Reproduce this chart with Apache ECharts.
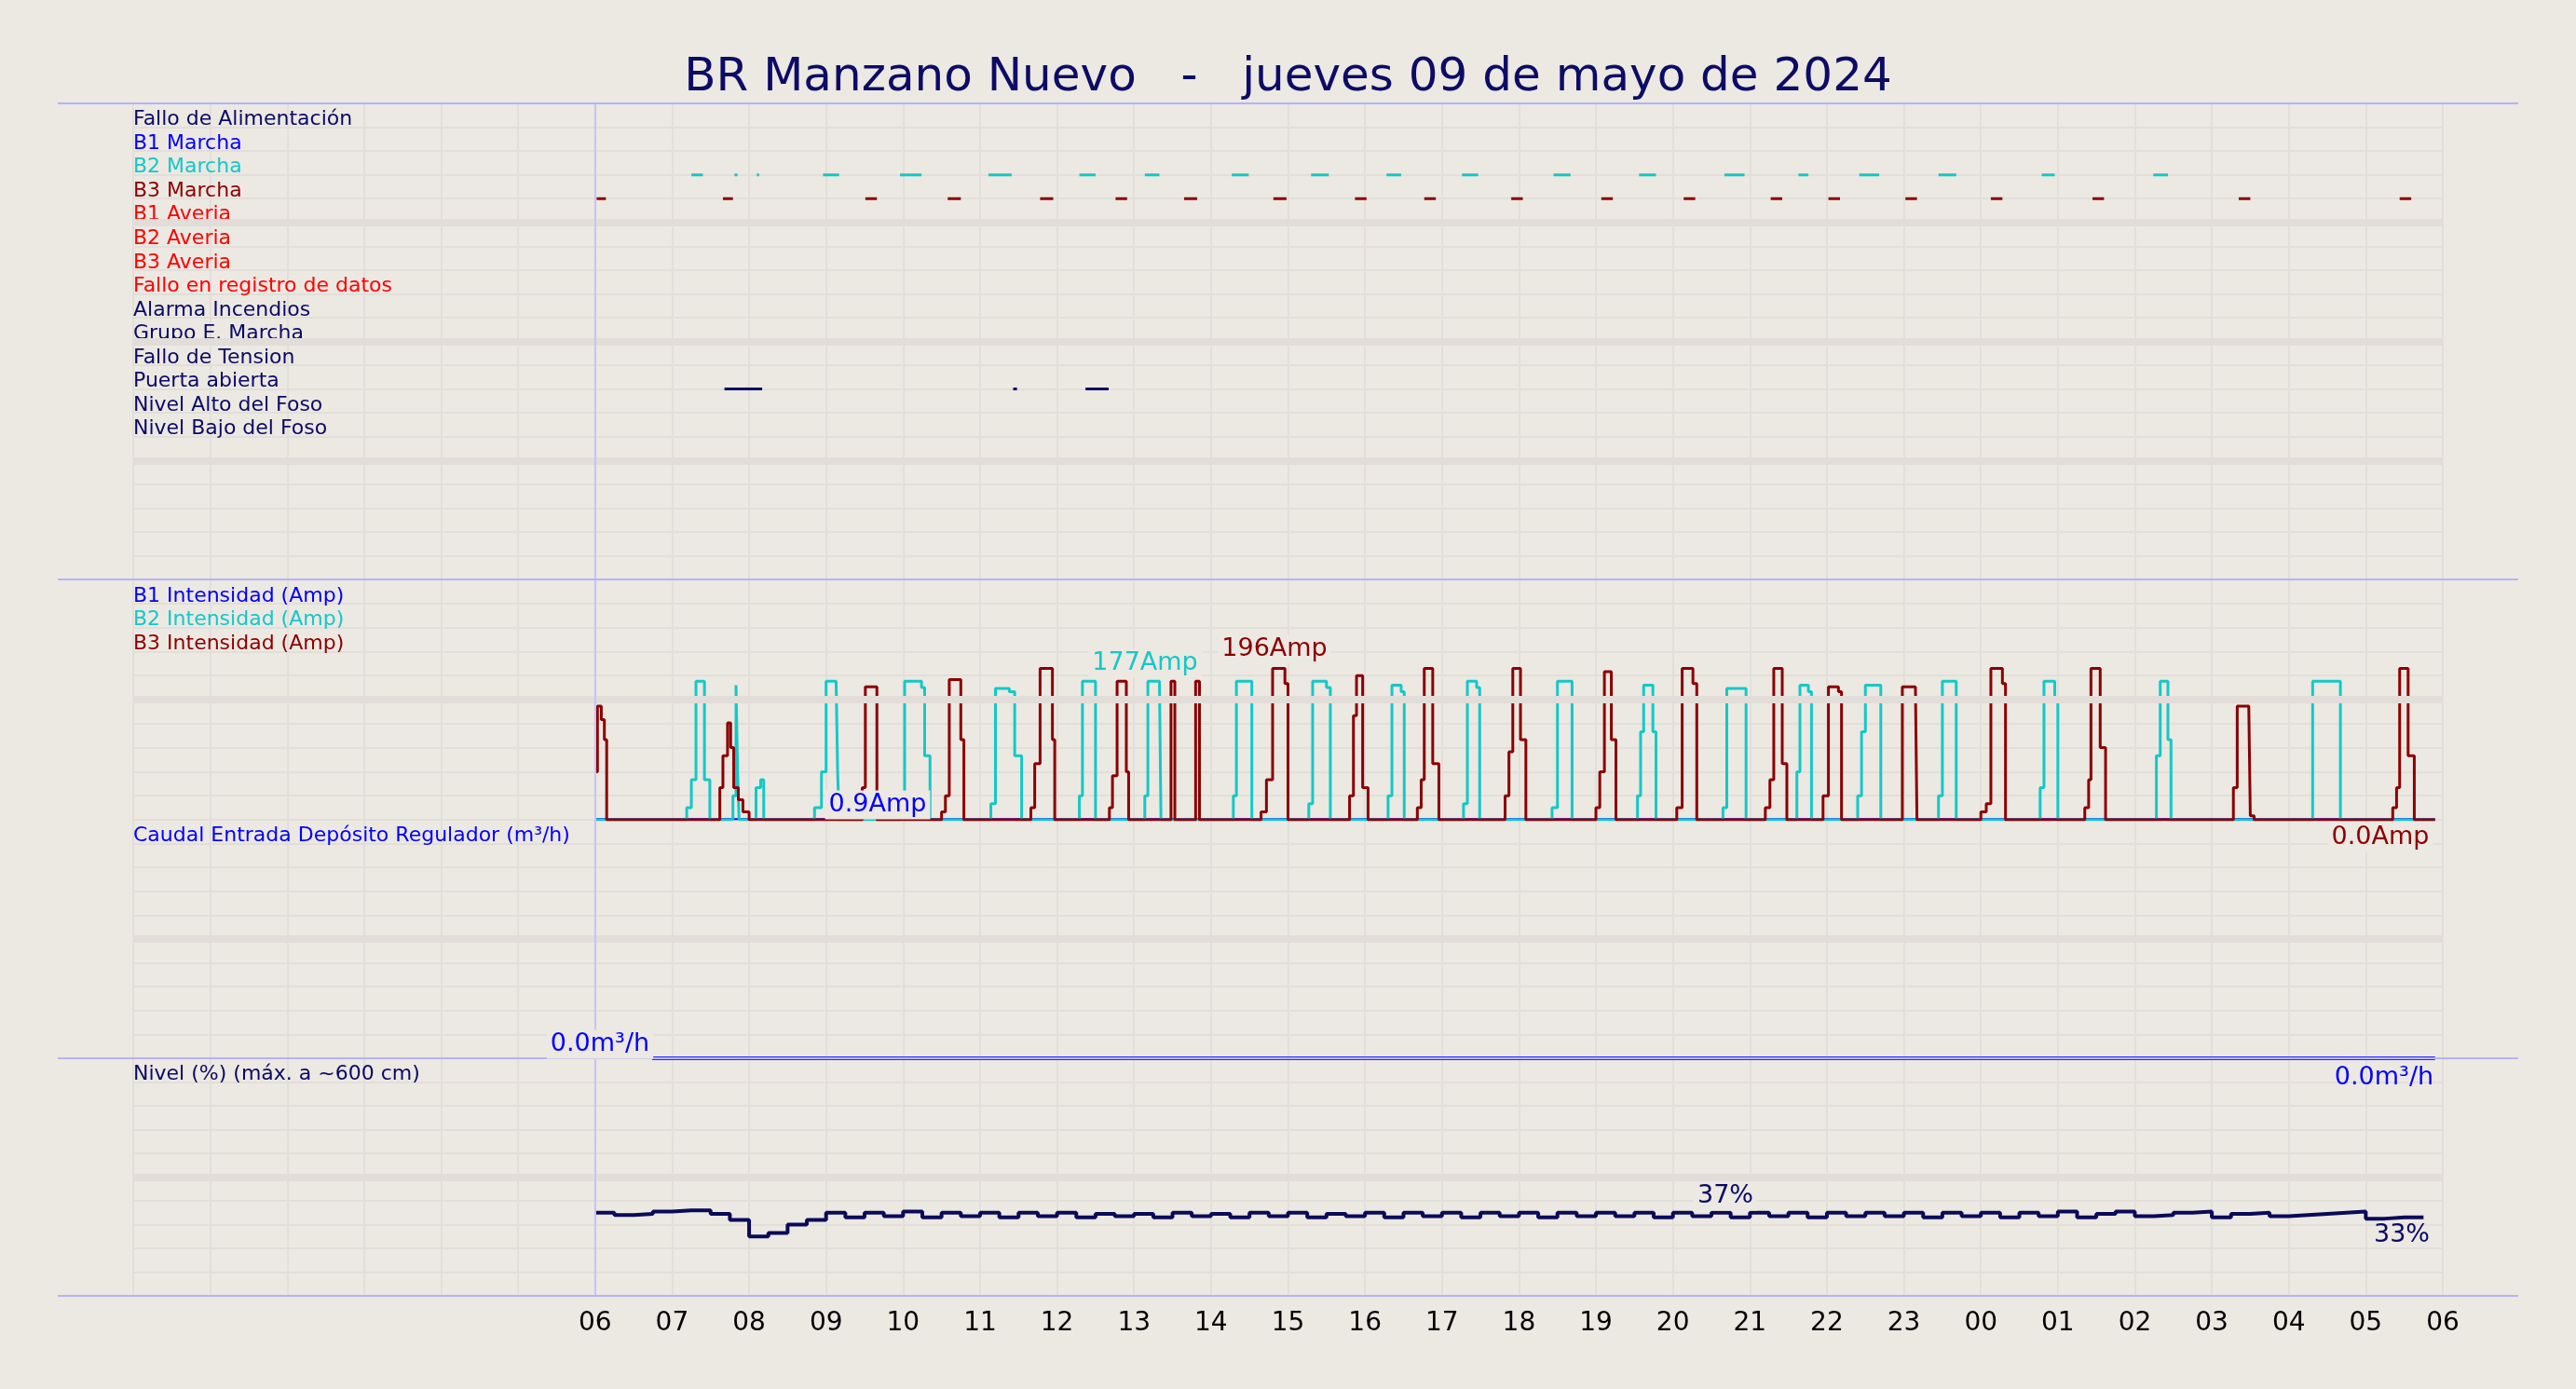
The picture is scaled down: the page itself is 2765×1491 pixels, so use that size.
<!DOCTYPE html>
<html><head><meta charset="utf-8">
<script src="https://cdn.jsdelivr.net/npm/echarts@6/dist/echarts.min.js"></script>
<style>html,body{margin:0;padding:0;background:#ece8e2}#c{width:2765px;height:1491px}</style>
</head><body><div id="c"></div>
<script>
const title = 'BR Manzano Nuevo   -   jueves 09 de mayo de 2024';
const eventLabels = ['Fallo de Alimentación','B1 Marcha','B2 Marcha','B3 Marcha','B1 Averia','B2 Averia','B3 Averia','Fallo en registro de datos','Alarma Incendios','Grupo E. Marcha','Fallo de Tension','Puerta abierta','Nivel Alto del Foso','Nivel Bajo del Foso'];
const eventColors = ['#0a0a66','#0000ff','#14c8c8','#8b0000','#ff0000','#ff0000','#ff0000','#ff0000','#0a0a66','#0a0a66','#0a0a66','#0a0a66','#0a0a66','#0a0a66'];
// event segments [start hour, end hour]
const b2Marcha = [[7.25,7.40],[7.81,7.85],[8.10,8.13],[8.96,9.17],[9.96,10.24],[11.11,11.41],[12.29,12.50],[13.14,13.33],[14.27,14.49],[15.30,15.53],[16.28,16.47],[17.26,17.47],[18.45,18.67],[19.56,19.78],[20.67,20.93],[21.63,21.76],[22.42,22.68],[23.45,23.68],[24.79,24.96],[26.24,26.43]];
const b3Marcha = [[6.02,6.14],[7.66,7.79],[9.51,9.66],[10.58,10.75],[11.78,11.95],[12.76,12.91],[13.65,13.82],[14.81,14.98],[15.87,16.02],[16.77,16.92],[17.90,18.05],[19.07,19.22],[20.14,20.29],[21.27,21.42],[22.02,22.17],[23.02,23.17],[24.13,24.28],[25.45,25.60],[27.35,27.50],[29.44,29.59]];
const puerta = [[7.68,8.17],[11.43,11.48],[12.37,12.67]];
// currents [hour, amp]
const b1Amp = [[6,0.9],[29.9,0.9]];
const b2Amp = [[6,0],
[7.19,15],[7.25,50],[7.31,173],[7.38,173],[7.42,50],[7.49,0],
[7.79,30],[7.83,168],[7.85,60],[7.87,0],
[8.09,40],[8.15,50],[8.19,0],
[8.85,15],[8.94,60],[9.0,173],[9.13,173],[9.15,60],[9.17,0],
[9.96,20],[10.02,173],[10.20,173],[10.24,165],[10.28,80],[10.35,0],
[11.14,20],[11.20,164],[11.38,160],[11.45,80],[11.54,0],
[12.29,30],[12.33,173],[12.46,173],[12.50,0],
[13.14,30],[13.18,173],[13.33,173],[13.35,0],
[14.29,30],[14.33,173],[14.49,173],[14.53,0],
[15.27,20],[15.32,173],[15.50,165],[15.55,0],
[16.30,30],[16.35,168],[16.47,160],[16.51,0],
[17.28,20],[17.33,173],[17.45,165],[17.49,0],
[18.43,15],[18.50,173],[18.65,173],[18.69,0],
[19.54,30],[19.58,110],[19.62,168],[19.74,110],[19.78,0],
[20.65,15],[20.70,164],[20.90,164],[20.95,0],
[21.61,60],[21.65,168],[21.76,160],[21.80,0],
[22.40,30],[22.45,110],[22.50,168],[22.66,168],[22.70,0],
[23.45,30],[23.50,173],[23.64,173],[23.68,0],
[24.77,40],[24.82,173],[24.96,150],[25.00,0],
[26.28,80],[26.33,173],[26.43,100],[26.47,0],
[28.31,173],[28.60,173],[28.67,0],
[29.9,0]];
const b3Amp = [[6.0,60],[6.03,142],[6.08,125],[6.12,100],[6.15,0],
[7.62,40],[7.66,80],[7.72,121],[7.76,90],[7.80,40],[7.86,25],[7.92,10],[8.0,0],
[9.47,40],[9.51,166],[9.66,0],
[10.50,10],[10.55,30],[10.60,175],[10.72,175],[10.75,100],[10.79,0],
[11.66,15],[11.71,70],[11.78,189],[11.90,189],[11.94,100],[11.97,0],
[12.68,15],[12.72,55],[12.78,173],[12.90,60],[12.93,0],
[13.48,173],[13.53,0],
[13.80,173],[13.85,0],
[14.65,10],[14.72,50],[14.80,189],[14.96,170],[15.0,0],
[15.80,30],[15.85,130],[15.89,180],[15.97,40],[16.04,0],
[16.68,15],[16.73,50],[16.77,189],[16.88,70],[16.96,0],
[17.82,30],[17.87,85],[17.92,189],[18.02,100],[18.09,0],
[19.00,15],[19.05,60],[19.11,185],[19.20,100],[19.26,0],
[20.05,15],[20.12,189],[20.26,170],[20.31,0],
[21.20,15],[21.26,50],[21.31,189],[21.42,70],[21.48,0],
[21.95,30],[22.02,166],[22.15,160],[22.19,0],
[22.98,166],[23.15,166],[23.17,0],
[24.00,10],[24.07,20],[24.13,189],[24.28,170],[24.32,0],
[25.35,15],[25.40,50],[25.43,189],[25.55,90],[25.62,0],
[27.28,40],[27.33,142],[27.48,142],[27.50,5],[27.55,0],
[29.35,15],[29.40,40],[29.44,189],[29.55,80],[29.63,0],
[29.9,0]];
const caudal = [[6.74,0],[29.9,0]];
// level % every 0.25 h from 06:00
const levelStart = 6, levelStep = 0.25;
const level = [35,34,34.5,35.5,36,36,34.5,32,25,26.5,30,32,35,33,35,33.5,35.5,33,35,33.5,35,33,35,33.5,35,33,34.5,33.5,34.5,33,35,33.5,34.5,33,35,33.5,35,33,34.5,33.5,35,33,35,33.5,35,33,35,33.5,35,33,35,33.5,35,33.5,35,33,35,33.5,35,33,35,33.5,35,33,35,33.5,35,33.5,35,33,35,33.5,35,33,35,33.5,35.5,33,34.5,35.5,33.5,34,35,35.5,33,34.5,35,33.5,34,34.5,35,35.5,32.5,33,33,33];
const xLabels = ['00','01','02','03','04','05','06','07','08','09','10','11','12','13','14','15','16','17','18','19','20','21','22','23'];

const FONT = 'DejaVu Sans';
const grids = [{top:111,height:511},{top:622,height:258},{top:880,height:256},{top:1136,height:255}].map(g=>({left:143,right:143,top:g.top,height:g.height}));
function seg(list,row){const d=[];list.forEach(s=>{d.push([s[0],row],[s[1],row],['-','-']);});return d;}
const levelData = level.map((v,i)=>[levelStart+i*levelStep,v]);

const xAxes = grids.map((g,i)=>({type:'value',gridIndex:i,min:0,max:30,interval:1,
  axisLine:{show:false},axisTick:{show:false},
  splitLine:{show:true,lineStyle:{color:'#e2ded9',width:2}},
  axisLabel:{show:i===3,fontFamily:FONT,fontSize:28,color:'#000',margin:16,
    formatter:v=>v>=6?xLabels[v%24]:''}}));
const LH=16;
const rich={};eventLabels.forEach((l,i)=>{rich['r'+i]={color:eventColors[i],fontFamily:FONT,fontSize:22,lineHeight:LH};});
function yBase(i,extra){return Object.assign({type:'value',gridIndex:i,axisLine:{show:false},axisTick:{show:false},
  splitLine:{show:true,lineStyle:{color:'#e2ded9',width:2}}},extra);}
const yAxes = [
  yBase(0,{min:0,max:20,interval:1,inverse:true,axisLabel:{inside:true,margin:0,verticalAlign:'bottom',lineHeight:LH,
    formatter:v=>(v>=1&&v<=14)?'{r'+(v-1)+'|'+eventLabels[v-1]+'}':'',rich:rich}}),
  yBase(1,{min:0,max:300,interval:30,axisLabel:{inside:true,margin:0,verticalAlign:'bottom',lineHeight:LH,
    formatter:v=>v===270?'{a|B1 Intensidad (Amp)}':v===240?'{b|B2 Intensidad (Amp)}':v===210?'{c|B3 Intensidad (Amp)}':'',
    rich:{a:{color:'#0000ff',fontSize:22,fontFamily:FONT,lineHeight:LH},b:{color:'#14c8c8',fontSize:22,fontFamily:FONT,lineHeight:LH},c:{color:'#8b0000',fontSize:22,fontFamily:FONT,lineHeight:LH}}}}),
  yBase(2,{min:0,max:10,interval:1,axisLabel:{inside:true,margin:0,verticalAlign:'bottom',lineHeight:LH,
    formatter:v=>v===9?'Caudal Entrada Depósito Regulador (m³/h)':'',color:'#0000ff',fontSize:22,fontFamily:FONT}}),
  yBase(3,{min:0,max:100,interval:10,axisLabel:{inside:true,margin:0,verticalAlign:'bottom',lineHeight:LH,
    formatter:v=>v===90?'Nivel (%) (máx. a ~600 cm)':'',color:'#0a0a66',fontSize:22,fontFamily:FONT}})
];
function thick(axisVals){return {silent:true,symbol:'none',label:{show:false},lineStyle:{color:'#e2ddd9',width:8,type:'solid'},
  data:axisVals.map(v=>({yAxis:v})).concat([{xAxis:6,lineStyle:{color:'#c4c4f5',width:2}}])};}
const base={type:'line',showSymbol:false,symbol:'none',animation:false,silent:true};
const series=[
  Object.assign({},base,{xAxisIndex:0,yAxisIndex:0,data:seg(b2Marcha,3),lineStyle:{color:'#14c8c8',width:3},markLine:thick([5,10,15])}),
  Object.assign({},base,{xAxisIndex:0,yAxisIndex:0,data:seg(b3Marcha,4),lineStyle:{color:'#8b0000',width:3}}),
  Object.assign({},base,{xAxisIndex:0,yAxisIndex:0,data:seg(puerta,12),lineStyle:{color:'#0a0a66',width:3}}),
  Object.assign({},base,{xAxisIndex:1,yAxisIndex:1,data:b1Amp,lineStyle:{color:'#0000ff',width:2},markLine:thick([150])}),
  Object.assign({},base,{xAxisIndex:1,yAxisIndex:1,data:b2Amp,step:'end',lineStyle:{color:'#14c8c8',width:3}}),
  Object.assign({},base,{xAxisIndex:1,yAxisIndex:1,data:b3Amp,step:'end',lineStyle:{color:'#8b0000',width:3}}),
  Object.assign({},base,{xAxisIndex:2,yAxisIndex:2,data:caudal,lineStyle:{color:'#2a2aff',width:4},markLine:thick([5])}),
  Object.assign({},base,{xAxisIndex:3,yAxisIndex:3,data:levelData,step:'end',lineStyle:{color:'#0a0a5a',width:4},markLine:thick([50])})
];
function txt(x,y,t,c,bg){return {type:'text',x:x,y:y,z:100,style:{text:t,fill:c,font:'27px "DejaVu Sans"',textAlign:'center',textVerticalAlign:'middle',backgroundColor:bg?'#ece8e2':null,padding:bg?[2,4]:0}};}
function hl(y){return {type:'line',z:50,shape:{x1:62,y1:y,x2:2703,y2:y},style:{stroke:'#b4b4f5',lineWidth:2}};}
const graphic=[hl(111),hl(622),hl(1136),hl(1391),
  txt(1229,712,'177Amp','#14c8c8',true),txt(1368,697,'196Amp','#8b0000',true),
  txt(942,864,'0.9Amp','#0000ff',true),txt(2555,899,'0.0Amp','#8b0000',true),
  txt(644,1121,'0.0m³/h','#0000ff',true),txt(2559,1157,'0.0m³/h','#0000ff',false),
  txt(1852,1284,'37%','#0a0a66',true),txt(2578,1326,'33%','#0a0a66',false)];
const chart=echarts.init(document.getElementById('c'));
chart.setOption({backgroundColor:'#ece8e2',animation:false,
  title:{text:title,left:'center',top:54,textStyle:{fontFamily:FONT,fontSize:50,fontWeight:'normal',color:'#0c0c66'}},
  grid:grids,xAxis:xAxes,yAxis:yAxes,series:series,graphic:graphic});
</script></body></html>
